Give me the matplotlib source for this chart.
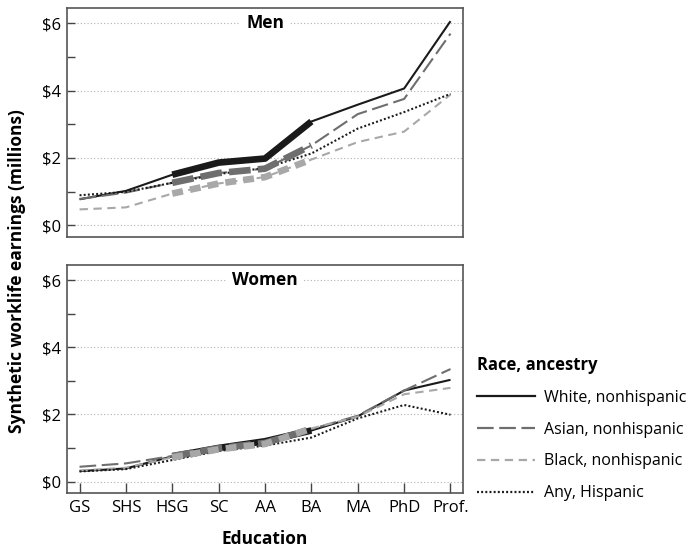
import matplotlib
matplotlib.use("Agg")
import matplotlib.pyplot as plt
from matplotlib.lines import Line2D

plt.rcParams['font.family'] = ['Open Sans', 'DejaVu Sans']

# education levels
education = ["GS", "SHS", "HSG", "SC", "AA", "BA", "MA", "PhD", "Prof."]

# synthetic worklife earnings, millions of dollars
men_white = [0.77, 1.02, 1.50, 1.86, 1.98, 3.08, 3.58, 4.06, 6.06]
men_asian = [0.78, 0.97, 1.26, 1.55, 1.68, 2.37, 3.30, 3.75, 5.69]
men_black = [0.47, 0.53, 0.94, 1.24, 1.43, 1.95, 2.47, 2.78, 3.88]
men_hisp = [0.89, 0.99, 1.26, 1.52, 1.70, 2.13, 2.87, 3.36, 3.90]

women_white = [0.31, 0.39, 0.75, 1.00, 1.20, 1.52, 1.94, 2.71, 3.03]
women_asian = [0.44, 0.54, 0.76, 0.99, 1.15, 1.56, 1.96, 2.71, 3.35]
women_black = [0.33, 0.41, 0.72, 0.96, 1.12, 1.58, 1.93, 2.60, 2.79]
women_hisp = [0.30, 0.37, 0.64, 0.91, 1.07, 1.31, 1.88, 2.28, 1.99]

race_labels = ["White, nonhispanic", "Asian, nonhispanic", "Black, nonhispanic", "Any, Hispanic"]
race_colors = ["#1a1a1a", "#6e6e6e", "#a8a8a8", "#1a1a1a"]
race_dashes = [None, (12, 4), (6, 4), (1.4, 1.6)]
thick_race = [True, True, True, False]   # thick between HSG and BA

tick_vals = [0, 2, 4, 6]
tick_text = ["$0", "$2", "$4", "$6"]

fig = plt.figure(figsize=(6.99, 5.53), dpi=100)
ax1 = fig.add_axes([0.0959, 0.5714, 0.5665, 0.4141])
ax2 = fig.add_axes([0.0959, 0.108, 0.5665, 0.4128])

x = list(range(len(education)))


def draw_panel(ax, series, title):
    for v in tick_vals:
        ax.axhline(v, color="#b0b0b0", lw=0.8, ls=(0, (1, 2)), zorder=0)
    # thin lines
    for vals, col, dsh in zip(series, race_colors, race_dashes):
        kw = dict(color=col, lw=1.5, solid_capstyle="butt", dash_capstyle="butt")
        if dsh is None:
            ax.plot(x, vals, ls="-", **kw)
        else:
            ax.plot(x, vals, ls=(0, tuple(d / 1.5 for d in dsh)), **kw)
    # thick segments HSG..BA
    for i in [0, 1, 2]:
        if not thick_race[i]:
            continue
        vals = series[i]
        dsh = race_dashes[i]
        kw = dict(color=race_colors[i], lw=4.8, solid_capstyle="butt", dash_capstyle="butt")
        if dsh is None:
            ax.plot(x[2:6], vals[2:6], ls="-", **kw)
        else:
            ax.plot(x[2:6], vals[2:6], ls=(0, tuple(d * 1.3 / 4.8 for d in dsh)), **kw)
    ax.set_xlim(-0.27, 8.27)
    ax.set_ylim(-0.35, 6.45)
    ax.set_yticks(tick_vals)
    ax.set_yticklabels(tick_text)
    ax.set_yticks([1, 3, 5], minor=True)
    ax.tick_params(axis="y", which="both", direction="in", length=6, width=1.0,
                   color="#444444", labelsize=12, pad=4)
    ax.text(4, 6, title, ha="center", va="center", fontsize=12.5, fontweight="bold",
            bbox=dict(facecolor="white", edgecolor="none", pad=4))
    for s in ax.spines.values():
        s.set_color("#555555")
        s.set_linewidth(1.2)


draw_panel(ax1, [men_white, men_asian, men_black, men_hisp], "Men")
draw_panel(ax2, [women_white, women_asian, women_black, women_hisp], "Women")

ax1.set_xticks([])
ax2.set_xticks(x)
ax2.set_xticklabels(education)
ax2.tick_params(axis="x", direction="in", length=7, width=1.0, color="#444444",
                labelsize=12, pad=5)
ax2.set_xlabel("Education", fontsize=12.5, fontweight="bold", labelpad=10)

fig.text(0.025, 0.51, "Synthetic worklife earnings (millions)", rotation=90,
         ha="center", va="center", fontsize=12.5, fontweight="bold")

handles = []
for col, dsh in zip(race_colors, race_dashes):
    if dsh is None:
        handles.append(Line2D([], [], color=col, lw=1.6))
    else:
        handles.append(Line2D([], [], color=col, lw=1.6, ls=(0, tuple(d / 1.6 for d in dsh))))
leg = fig.legend(handles, race_labels, loc="upper left", bbox_to_anchor=(0.683, 0.357),
                 frameon=False, fontsize=11.5, title="Race, ancestry",
                 handlelength=3.6, handletextpad=0.55, labelspacing=1.0,
                 borderaxespad=0, borderpad=0, alignment="left")
leg.get_title().set_fontweight("bold")
leg.get_title().set_fontsize(12)

fig.savefig("out.png", dpi=100)
